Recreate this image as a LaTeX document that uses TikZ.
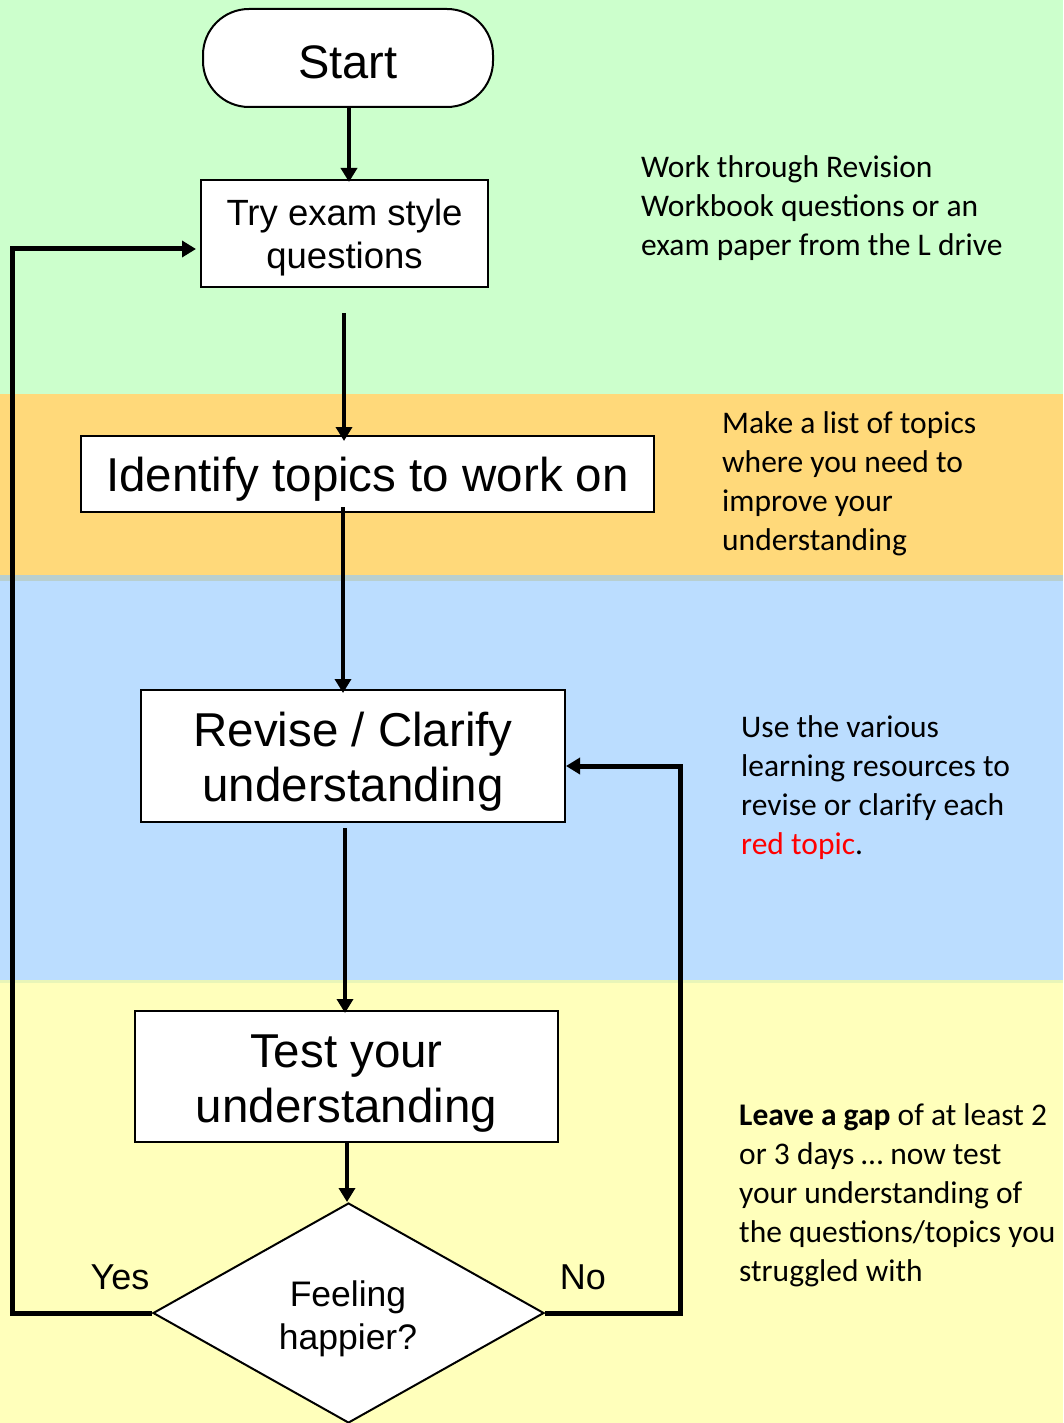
\documentclass[tikz,border=0pt]{standalone}
\usepackage{fontspec}
\setmainfont{Liberation Sans}
\newfontfamily\notefont{Carlito}
\usetikzlibrary{arrows.meta,shapes.geometric}
\definecolor{bgreen}{RGB}{204,255,204}
\definecolor{borange}{RGB}{255,217,122}
\definecolor{bblue}{RGB}{187,221,255}
\definecolor{byellow}{RGB}{255,255,187}
\definecolor{bstripe}{RGB}{184,207,207}
\definecolor{ystripe}{RGB}{232,245,184}
\definecolor{redtopic}{RGB}{255,0,0}
\begin{document}
\begin{tikzpicture}[x=1pt,y=-1pt,
  box/.style={draw=black, line width=2pt, fill=white, inner sep=0pt, align=center},
  flow/.style={line width=4pt, -{Triangle[width=16pt,length=14pt]}},
  loopline/.style={line width=5pt, -{Triangle[width=16pt,length=14pt]}},
  notetext/.style={anchor=north west, inner sep=0pt, align=left,
    font=\notefont\fontsize{31.5}{39}\selectfont},
  lbl/.style={inner sep=0pt, font=\fontsize{36}{41}\selectfont}]
\useasboundingbox (0,0) rectangle (1063,1423);
% bands
\fill[bgreen] (0,0) rectangle (1063,394);
\fill[borange] (0,394) rectangle (1063,575);
\fill[bstripe] (0,575) rectangle (1063,581);
\fill[bblue] (0,581) rectangle (1063,980);
\fill[byellow] (0,980) rectangle (1063,1423);
\fill[ystripe] (0,980) rectangle (1063,983);
% nodes
\node[box, rounded corners=46pt, minimum width=290pt, minimum height=98pt, text height=42pt,
  font=\fontsize{47}{54}\selectfont] (start) at (348,58) {Start};
\node[box, minimum width=287pt, minimum height=107pt,
  font=\fontsize{36.5}{43}\selectfont] (try) at (344.5,233.5) {\rule{0pt}{34pt}Try exam style\\questions};
\node[box, minimum width=573pt, minimum height=76pt, text depth=0pt,
  font=\fontsize{47.5}{50}\selectfont] (ident) at (367.5,474) {Identify topics to work on};
\node[box, minimum width=424pt, minimum height=132pt,
  font=\fontsize{47.5}{55}\selectfont] (revise) at (353,756) {\rule{0pt}{46pt}Revise / Clarify\\understanding};
\node[box, minimum width=423pt, minimum height=131pt,
  font=\fontsize{47.5}{55}\selectfont] (test) at (346.5,1076.5) {\rule{0pt}{47pt}Test your\\understanding};
\node[draw=black, line width=2pt, fill=white, shape=diamond, aspect=1.78,
  minimum width=391pt, minimum height=220pt, inner sep=0pt] (dec) at (348.5,1313) {};
\node[lbl, align=center, font=\fontsize{35.5}{43}\selectfont] (dectext) at (348,1319) {Feeling\\happier?};
\node[lbl] (yes) at (120,1277) {Yes};
\node[lbl] (no) at (583,1277) {No};
% notes
\node[notetext] (n1) at (641,155) {Work through Revision\\Workbook questions or an\\exam paper from the L drive};
\node[notetext] (n2) at (722,411) {Make a list of topics\\where you need to\\improve your\\understanding};
\node[notetext] (n3) at (741,715) {Use the various\\learning resources to\\revise or clarify each\\\textcolor{redtopic}{red topic}.};
\node[notetext] (n4) at (739,1103) {\textbf{Leave a gap} of at least 2\\or 3 days \dots\ now test\\your understanding of\\the questions/topics you\\struggled with};
% connector helpers
\coordinate (s1) at (349,0);
\coordinate (s2) at (347,0);
\coordinate (c1) at (344,313);
\coordinate (c2) at (343,507);
\coordinate (c3) at (345,828);
\coordinate (yl) at (12,249);
\coordinate (nl) at (680,766);
% connectors
\draw[flow] (start.south -| s1) -- ([yshift=-3pt]try.north -| s1);
\draw[flow] (c1) -- ([yshift=-6pt]c1 |- ident.north);
\draw[flow] (c2) -- ([yshift=-4pt]c2 |- revise.north);
\draw[flow] (c3) -- ([yshift=-3pt]c3 |- test.north);
\draw[flow] (test.south -| s2) -- (dec.north -| s2);
\draw[loopline] (dec.west) -| (yl) -- ([xshift=-4pt]yl -| try.west);
\draw[loopline] (dec.east) -| (nl) -- (nl -| revise.east);
\end{tikzpicture}
\end{document}
